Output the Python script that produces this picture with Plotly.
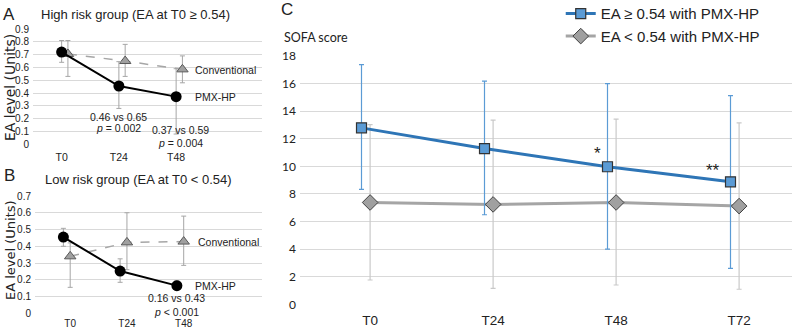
import plotly.graph_objects as go

# ---------------- data ----------------
time_ab = ["T0", "T24", "T48"]
time_c = ["T0", "T24", "T48", "T72"]

# Panel A: high risk group
a_pmx = [0.72, 0.455, 0.372]
a_pmx_hi = [0.81, 0.645, 0.59]
a_pmx_lo = [0.64, 0.28, 0.08]
a_conv = [0.705, 0.65, 0.585]
a_conv_hi = [0.81, 0.78, 0.69]
a_conv_lo = [0.53, 0.53, 0.48]

# Panel B: low risk group
b_pmx = [0.455, 0.252, 0.165]
b_pmx_hi = [0.507, 0.325, 0.195]
b_pmx_lo = [0.40, 0.185, 0.14]
b_conv = [0.34, 0.423, 0.428]
b_conv_hi = [0.42, 0.60, 0.58]
b_conv_lo = [0.155, 0.26, 0.286]

# Panel C: SOFA score
c_high = [12.79, 11.29, 9.97, 8.88]
c_high_hi = [17.37, 16.18, 16.0, 15.13]
c_high_lo = [8.33, 6.49, 4.0, 2.6]
c_low = [7.38, 7.24, 7.38, 7.12]
c_low_hi = [13.03, 13.35, 13.42, 13.15]
c_low_lo = [1.76, 1.16, 1.40, 1.09]

W, H = 792, 330
FONT = "Liberation Sans, Arial, sans-serif"
GRID = "#d9d9d9"

def err(v, hi, lo):
    return dict(type="data", symmetric=False,
                array=[h - x for h, x in zip(hi, v)],
                arrayminus=[x - l for l, x in zip(lo, v)])

fig = go.Figure()

# ---------- Panel A ----------
idx = list(range(len(time_ab)))
fig.add_trace(go.Scatter(
    x=[i + 0.11 for i in idx], y=a_conv, mode="lines+markers",
    line=dict(color="#a6a6a6", width=1.5, dash="dash"),
    marker=dict(symbol="triangle-up", size=10, color="#a0a0a0",
                line=dict(color="#595959", width=1)),
    error_y=dict(**err(a_conv, a_conv_hi, a_conv_lo), color="#a6a6a6", thickness=1, width=2.5),
    xaxis="x", yaxis="y", showlegend=False))
fig.add_trace(go.Scatter(
    x=idx, y=a_pmx, mode="lines+markers",
    line=dict(color="black", width=2),
    marker=dict(symbol="circle", size=11, color="black"),
    error_y=dict(**err(a_pmx, a_pmx_hi, a_pmx_lo), color="#a6a6a6", thickness=1, width=2.5),
    xaxis="x", yaxis="y", showlegend=False))

# ---------- Panel B ----------
fig.add_trace(go.Scatter(
    x=[i + 0.12 for i in idx], y=b_conv, mode="lines+markers",
    line=dict(color="#a6a6a6", width=1.5, dash="dash"),
    marker=dict(symbol="triangle-up", size=10, color="#a0a0a0",
                line=dict(color="#595959", width=1)),
    error_y=dict(**err(b_conv, b_conv_hi, b_conv_lo), color="#a6a6a6", thickness=1, width=2.5),
    xaxis="x2", yaxis="y2", showlegend=False))
fig.add_trace(go.Scatter(
    x=idx, y=b_pmx, mode="lines+markers",
    line=dict(color="black", width=2),
    marker=dict(symbol="circle", size=11, color="black"),
    error_y=dict(**err(b_pmx, b_pmx_hi, b_pmx_lo), color="#a6a6a6", thickness=1, width=2.5),
    xaxis="x2", yaxis="y2", showlegend=False))

# ---------- Panel C ----------
idc = list(range(len(time_c)))
fig.add_trace(go.Scatter(
    x=[i + 0.07 for i in idc], y=c_low, mode="lines+markers",
    name="EA < 0.54 with PMX-HP",
    line=dict(color="#a5a5a5", width=3),
    marker=dict(symbol="diamond", size=12, color="#a0a0a0",
                line=dict(color="#404040", width=1)),
    error_y=dict(**err(c_low, c_low_hi, c_low_lo), color="#c9c9c9", thickness=1.2, width=2.5),
    xaxis="x3", yaxis="y3"))
fig.add_trace(go.Scatter(
    x=idc, y=c_high, mode="lines+markers",
    name="EA ≥ 0.54 with PMX-HP",
    line=dict(color="#2e75b6", width=3),
    marker=dict(symbol="square", size=10, color="#5b9bd5",
                line=dict(color="#333333", width=1.2)),
    error_y=dict(**err(c_high, c_high_hi, c_high_lo), color="#5b9bd5", thickness=1.2, width=2.5),
    xaxis="x3", yaxis="y3"))

def px_x(a, b):
    return [a / W, b / W]

def px_y(bottom, top):
    return [1 - bottom / H, 1 - top / H]

xcommon = dict(showgrid=False, zeroline=False, showline=False, ticks="",
               range=[-0.5, 3.5], automargin=False)
ycommon = dict(showgrid=True, gridcolor=GRID, gridwidth=1, zeroline=False,
               showline=False, ticks="", ticklabelstandoff=3, automargin=False)

fig.update_layout(
    width=W, height=H, margin=dict(l=0, r=0, t=0, b=0, autoexpand=False),
    paper_bgcolor="white", plot_bgcolor="white",
    font=dict(family=FONT, color="#222222"),
    xaxis=dict(**xcommon, domain=px_x(33, 262), anchor="y", ticklabelstandoff=5,
               tickvals=idx, ticktext=time_ab, tickfont=dict(size=10.5)),
    yaxis=dict(**ycommon, domain=px_y(144.3, 29), anchor="x", range=[0, 0.9],
               dtick=0.1, tickformat="~g", tickfont=dict(size=10)),
    xaxis2=dict(**xcommon, domain=px_x(35, 262), anchor="y2", ticklabelstandoff=3,
                tickvals=[i + 0.12 for i in idx], ticktext=time_ab, tickfont=dict(size=10)),
    yaxis2=dict(**ycommon, domain=px_y(313.3, 196), anchor="x2", range=[0, 0.7],
                dtick=0.1, tickformat="~g", tickfont=dict(size=10)),
    xaxis3=dict(**xcommon, domain=px_x(300, 792), anchor="y3", ticklabelstandoff=6,
                tickvals=[i + 0.07 for i in idc], ticktext=time_c, tickfont=dict(size=13.5)),
    yaxis3=dict(**ycommon, domain=px_y(304.3, 56), anchor="x3", range=[0, 18],
                dtick=2, tickfont=dict(size=12, family="Lato, sans-serif")),
    legend=dict(x=0.708, y=1.008, xanchor="left", yanchor="top",
                font=dict(size=15, family=FONT), bgcolor="rgba(0,0,0,0)",
                traceorder="reversed", itemwidth=30),
)

ann = []
def add(text, x, y, xref="paper", yref="paper", size=10.5, xanchor="center", **kw):
    ann.append(dict(text=text, x=x, y=y, xref=xref, yref=yref, showarrow=False,
                    xanchor=xanchor, yanchor="middle", font=dict(size=size, **kw)))

# panel letters & titles (pixel positions converted to paper)
add("A", 9 / W, 1 - 14 / H, size=17)
add("High risk group (EA at T0 ≥ 0.54)", 39 / W, 1 - 14 / H, size=13, xanchor="left")
add("B", 9 / W, 1 - 175 / H, size=17)
add("Low risk group (EA at T0 < 0.54)", 43 / W, 1 - 179 / H, size=13, xanchor="left")
add("C", 287 / W, 1 - 10 / H, size=17)
add("SOFA score", 282 / W, 1 - 38 / H, size=12.5, xanchor="left", family="Lato, sans-serif")

for ytxt, sz in [(1 - 88 / H, 14), (1 - 250 / H, 13)]:
    ann.append(dict(text="EA level (Units)", x=10 / W, y=ytxt, xref="paper", yref="paper",
                    xanchor="center", yanchor="middle",
                    showarrow=False, textangle=-90,
                    font=dict(size=sz, family="DejaVu Sans, sans-serif")))

# panel A notes
add("0.46 vs 0.65", 1.0, 0.215, "x", "y")
add("<i>p</i> = 0.002", 1.0, 0.125, "x", "y")
add("0.37 vs 0.59", 2.07, 0.112, "x", "y")
add("<i>p</i> = 0.004", 2.07, 0.0125, "x", "y")
add("Conventional", 2.30, 0.58, "x", "y", xanchor="left")
add("PMX-HP", 2.29, 0.367, "x", "y", xanchor="left")

# panel B notes
add("Conventional", 2.34, 0.427, "x2", "y2", xanchor="left")
add("PMX-HP", 2.28, 0.165, "x2", "y2", xanchor="left")
add("0.16 vs 0.43", 2.0, 0.093, "x2", "y2")
add("<i>p</i> &lt; 0.001", 2.0, 0.01, "x2", "y2")

# panel C significance marks
add("*", 1.92, 10.9, "x3", "y3", size=17)
add("**", 2.86, 9.7, "x3", "y3", size=17)

fig.update_layout(annotations=ann)
fig.write_html("out.html", config={"displayModeBar": False},
               post_script="document.body.style.margin='0';document.body.style.padding='0';")
